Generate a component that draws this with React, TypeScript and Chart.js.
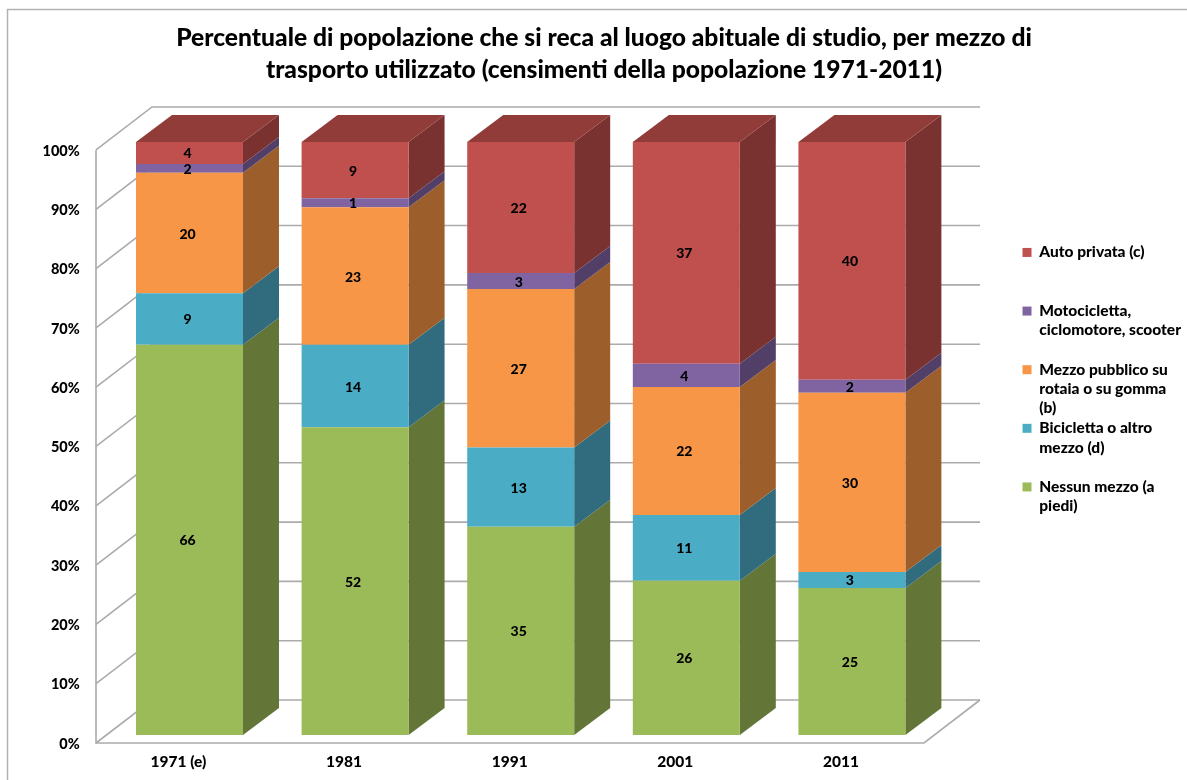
import React, { useEffect, useRef } from "react";
import { Chart, registerables } from "chart.js";

Chart.register(...registerables);

const categories = ["1971 (e)", "1981", "1991", "2001", "2011"];
const nessunMezzo = [65.8, 51.9, 35.1, 26.0, 24.8];
const bicicletta = [8.7, 13.9, 13.4, 11.1, 2.7];
const mezzoPubblico = [20.3, 23.2, 26.7, 21.6, 30.2];
const motocicletta = [1.5, 1.49, 2.7, 3.9, 2.2];
const autoPrivata = [3.7, 9.49, 22.1, 37.4, 40.1];

const titleLines = [
  "Percentuale di popolazione che si reca al luogo abituale di studio, per mezzo di",
  "trasporto utilizzato (censimenti della popolazione 1971-2011)",
];

const seriesStyles = [
  { label: ["Nessun mezzo (a", "piedi)", ""], data: nessunMezzo, front: "#9BBB59", side: "#637537", top: "#7A9145" },
  { label: ["Bicicletta o altro", "mezzo (d)", ""], data: bicicletta, front: "#4BACC6", side: "#306C7D", top: "#3A8599" },
  { label: ["Mezzo pubblico su", "rotaia o su gomma", "(b)"], data: mezzoPubblico, front: "#F79646", side: "#9C5F2C", top: "#C07536" },
  { label: ["Motocicletta,", "ciclomotore, scooter", ""], data: motocicletta, front: "#8064A2", side: "#513F67", top: "#634E7E" },
  { label: ["Auto privata (c)", "", ""], data: autoPrivata, front: "#C0504D", side: "#7A3230", top: "#923C3A" },
];

const legendOrder = [4, 3, 2, 1, 0];
const FONT = "Lato, 'Open Sans', sans-serif";
const GRID = "#ABABAB";

// 3D projection offsets (px), from the bars' front plane and the axis front plane
const BAR_DX = 36;
const BAR_DY = -27;
const AXIS_DX = -10.7;
const AXIS_DY = 8;
const WALL_DX = 56;
const WALL_DY = -43;

const frame3d = {
  id: "frame3d",
  beforeDatasetsDraw(chart: any) {
    const { ctx, scales, width, height } = chart;
    const y = scales.y;
    const left = chart.chartArea.left + AXIS_DX;
    const right = chart.chartArea.right + AXIS_DX;

    ctx.save();
    ctx.strokeStyle = "#B2B2B2";
    ctx.lineWidth = 1.5;
    ctx.beginPath();
    ctx.moveTo(7.5, height);
    ctx.lineTo(7.5, 9.5);
    ctx.lineTo(width, 9.5);
    ctx.stroke();

    ctx.strokeStyle = GRID;
    ctx.lineWidth = 1.6;
    y.ticks.forEach((t: any) => {
      const py = y.getPixelForValue(t.value) + AXIS_DY;
      ctx.beginPath();
      ctx.moveTo(left, py);
      ctx.lineTo(left + WALL_DX, py + WALL_DY);
      ctx.lineTo(right + WALL_DX, py + WALL_DY);
      ctx.stroke();
    });
    const y0 = y.getPixelForValue(0) + AXIS_DY;
    const y100 = y.getPixelForValue(100) + AXIS_DY;
    ctx.beginPath();
    ctx.moveTo(left, y100);
    ctx.lineTo(left, y0);
    ctx.lineTo(right, y0);
    ctx.lineTo(right + WALL_DX, y0 + WALL_DY);
    ctx.stroke();

    chart.getSortedVisibleDatasetMetas().forEach((meta: any, di: number) => {
      const style = seriesStyles[di];
      meta.data.forEach((bar: any) => {
        const p = bar.getProps(["x", "y", "base", "width"], true);
        const r = p.x + p.width / 2;
        const l = p.x - p.width / 2;
        ctx.fillStyle = style.side;
        ctx.beginPath();
        ctx.moveTo(r, p.y);
        ctx.lineTo(r + BAR_DX, p.y + BAR_DY);
        ctx.lineTo(r + BAR_DX, p.base + BAR_DY);
        ctx.lineTo(r, p.base);
        ctx.closePath();
        ctx.fill();
        if (di === seriesStyles.length - 1) {
          ctx.fillStyle = style.top;
          ctx.beginPath();
          ctx.moveTo(l, p.y);
          ctx.lineTo(l + BAR_DX, p.y + BAR_DY);
          ctx.lineTo(r + BAR_DX, p.y + BAR_DY);
          ctx.lineTo(r, p.y);
          ctx.closePath();
          ctx.fill();
        }
      });
    });
    ctx.restore();
  },
  afterDatasetsDraw(chart: any) {
    const { ctx } = chart;
    ctx.save();
    ctx.fillStyle = "#000";
    ctx.font = `900 14px ${FONT}`;
    ctx.textAlign = "center";
    ctx.textBaseline = "middle";
    chart.getSortedVisibleDatasetMetas().forEach((meta: any, di: number) => {
      meta.data.forEach((bar: any, i: number) => {
        const p = bar.getProps(["x", "y", "base"], true);
        const v = Math.round(seriesStyles[di].data[i]);
        const cy = (p.y + p.base) / 2;
        ctx.fillText(String(v), p.x - 2, cy + 1);
      });
    });
    ctx.restore();
  },
};

export default function App() {
  const ref = useRef<HTMLCanvasElement>(null);
  useEffect(() => {
    const chart = new Chart(ref.current as HTMLCanvasElement, {
      type: "bar",
      data: {
        labels: categories,
        datasets: seriesStyles.map((s) => ({
          label: s.label as any,
          data: s.data,
          backgroundColor: s.front,
          borderWidth: 0,
          categoryPercentage: 1,
          barPercentage: 0.646,
          stack: "all",
        })),
      },
      plugins: [frame3d],
      options: {
        responsive: false,
        animation: false,
        layout: { padding: { left: 17, right: -4, top: 2, bottom: 0 } },
        plugins: {
          tooltip: { enabled: false },
          title: {
            display: true,
            text: titleLines,
            color: "#000",
            font: { family: FONT, size: 24.6, weight: "900", lineHeight: 1.3 },
            padding: { top: 20.5, bottom: 55.5 },
          },
          legend: {
            display: true,
            position: "right",
            align: "center",
            labels: {
              color: "#000",
              boxWidth: 9,
              boxHeight: 9,
              padding: 0.5,
              font: { family: FONT, size: 15.5, weight: "900", lineHeight: 1.25 },
              generateLabels: () =>
                legendOrder.map((i) => ({
                  text: seriesStyles[i].label as any,
                  fillStyle: seriesStyles[i].front,
                  strokeStyle: seriesStyles[i].front,
                  lineWidth: 0,
                  hidden: false,
                  datasetIndex: i,
                })),
            },
          },
        },
        scales: {
          x: {
            stacked: true,
            grid: { display: false },
            border: { display: false },
            ticks: {
              color: "#000",
              font: { family: FONT, size: 15.5, weight: "900" },
              labelOffset: -11,
              padding: 10,
              maxRotation: 0,
            },
            afterFit: (s: any) => {
              s.height = 45;
            },
          },
          y: {
            stacked: true,
            min: 0,
            max: 100,
            grid: { display: false },
            border: { display: false },
            ticks: {
              stepSize: 10,
              color: "#000",
              font: { family: FONT, size: 14.5, weight: "900" },
              labelOffset: 9,
              padding: 19,
              callback: (v: any) => `${v}%`,
            },
            afterFit: (s: any) => {
              s.width = 89.7;
            },
          },
          gap: {
            position: "right",
            display: true,
            grid: { display: false },
            border: { display: false },
            ticks: { display: false },
            afterFit: (s: any) => {
              s.width = 1187 - 934.7 + 4 - (s.chart.legend?.width ?? 0);
            },
          },
        },
      } as any,
    });
    return () => chart.destroy();
  }, []);
  return (
    <canvas
      ref={ref}
      width={1187}
      height={780}
      style={{ position: "absolute", left: 0, top: 0, display: "block" }}
    />
  );
}
